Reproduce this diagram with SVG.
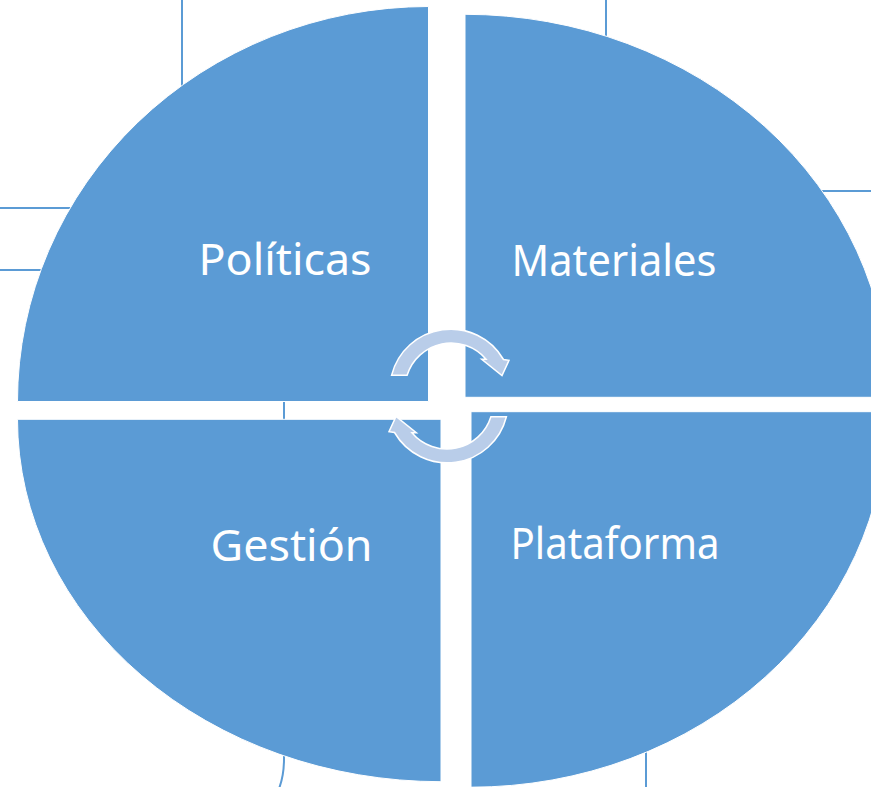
<svg xmlns="http://www.w3.org/2000/svg" xmlns:xlink="http://www.w3.org/1999/xlink" width="871" height="787" viewBox="0 0 871 787">
  <style>
    .bgline { fill: none; stroke: #5B9BD5; stroke-width: 2; }
    .pie { fill: #5B9BD5; stroke: #FFFFFF; stroke-width: 1; }
    .label { fill: #FFFFFF; font-family: "Noto Sans", "Open Sans", "Liberation Sans", sans-serif; font-size: 44px; text-anchor: middle; }
    .cyc { fill: #B9CDE9; stroke: #FFFFFF; stroke-width: 1.5; stroke-linejoin: miter; }
  </style>
  <defs>
    <path id="cycArrow" d="M 391.6 375.3 A 61 61 0 0 1 503.5 359.5 L 509 360.3 L 502 375.5 L 481.7 359.3 L 486.1 359.3 A 46 46 0 0 0 407.1 375.3 Z"/>
  </defs>
  <rect x="0" y="0" width="871" height="787" fill="#FFFFFF"/>

  <g id="text-boxes">
    <path class="bgline" d="M 182 -5 V 208 H -5"/>
    <path class="bgline" d="M -5 270 H 284 V 759 C 284 770 282.5 780 278.5 790"/>
    <path class="bgline" d="M 606 -5 V 191 H 880"/>
    <path class="bgline" d="M 646 650 V 792"/>
  </g>

  <g id="node-politicas">
    <path class="pie" d="M 428.5 401.5 H 17.5 A 411 395 0 0 1 428.5 6.5 Z"/>
    <text class="label" x="285" y="275" textLength="173" lengthAdjust="spacingAndGlyphs">Políticas</text>
  </g>
  <g id="node-materiales">
    <path class="pie" d="M 465 397.3 V 14.3 A 424 383 0 0 1 889 397.3 Z"/>
    <text class="label" x="614" y="276" textLength="205" lengthAdjust="spacingAndGlyphs">Materiales</text>
  </g>
  <g id="node-gestion">
    <path class="pie" d="M 441 419.3 V 781.7 A 423.5 362.4 0 0 1 17.5 419.3 Z"/>
    <text class="label" x="291.5" y="561" textLength="162" lengthAdjust="spacingAndGlyphs">Gestión</text>
  </g>
  <g id="node-plataforma">
    <path class="pie" d="M 471 411.7 H 887 A 416 375.5 0 0 1 471 787.2 Z"/>
    <text class="label" x="615" y="559" textLength="209" lengthAdjust="spacingAndGlyphs">Plataforma</text>
  </g>

  <g id="connectors">
    <use xlink:href="#cycArrow" class="cyc"/>
    <use xlink:href="#cycArrow" class="cyc" transform="rotate(180 449 396)"/>
  </g>
</svg>
